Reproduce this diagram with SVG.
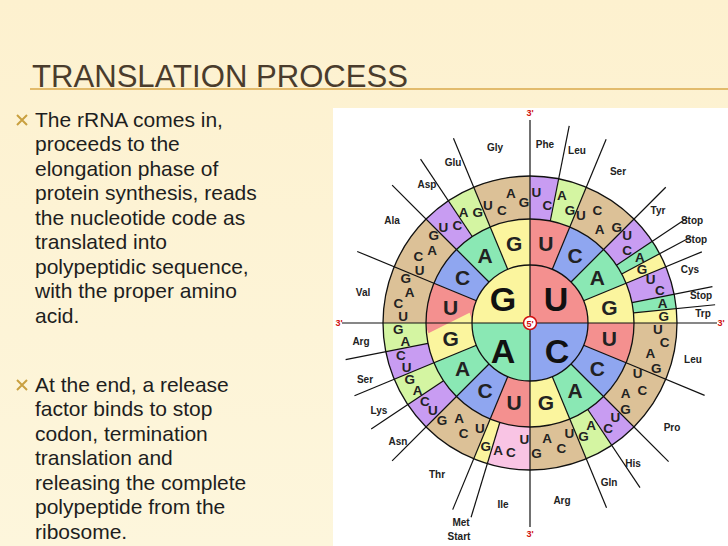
<svg xmlns="http://www.w3.org/2000/svg" width="728" height="546" viewBox="0 0 728 546">
<defs>
<linearGradient id="bg" x1="0" y1="0" x2="0" y2="1"><stop offset="0" stop-color="#fdf1cf"/><stop offset="1" stop-color="#fdf6dc"/></linearGradient>
<style>
.t{font-family:"Liberation Sans",Arial,sans-serif;font-size:21px;fill:#1e1e1e}
.aa{font-family:"Liberation Sans",Arial,sans-serif;font-size:10px;font-weight:bold;fill:#222;text-anchor:middle}
.n3{font-family:"Liberation Sans",Arial,sans-serif;font-size:13.5px;font-weight:bold;fill:#222;text-anchor:middle;dominant-baseline:central}
.n2{font-family:"Liberation Sans",Arial,sans-serif;font-size:21px;font-weight:bold;fill:#222;text-anchor:middle;dominant-baseline:central}
.n1{font-family:"Liberation Sans",Arial,sans-serif;font-size:34px;font-weight:bold;fill:#111;text-anchor:middle;dominant-baseline:central}
.p{font-family:"Liberation Sans",Arial,sans-serif;font-size:9px;font-weight:bold;fill:#d01010;text-anchor:middle}
.r3{fill:none;stroke-width:43}
.r2{fill:none;stroke-width:46}
.bl{stroke:#111;stroke-width:1.2}
</style>
</defs>
<rect width="728" height="546" fill="url(#bg)"/>
<text x="32" y="87" font-family="Liberation Sans,Arial,sans-serif" font-size="31" fill="#4a3c2c" textLength="376" lengthAdjust="spacingAndGlyphs">TRANSLATION PROCESS</text>
<line x1="30" y1="89" x2="728" y2="89" stroke="#d9a84a" stroke-width="1.5"/>
<g fill="none" stroke="#c9a040" stroke-width="2"><path d="M17 115 l10 10 M27 115 l-10 10"/><path d="M17 380 l10 10 M27 380 l-10 10"/></g>
<g class="t">
<text x="35" y="127">The rRNA comes in,</text>
<text x="35" y="151">proceeds to the</text>
<text x="35" y="176">elongation phase of</text>
<text x="35" y="200">protein synthesis, reads</text>
<text x="35" y="225">the nucleotide code as</text>
<text x="35" y="249">translated into</text>
<text x="35" y="274">polypeptidic sequence,</text>
<text x="35" y="298">with the proper amino</text>
<text x="35" y="323">acid.</text>
<text x="35" y="392">At the end, a release</text>
<text x="35" y="416">factor binds to stop</text>
<text x="35" y="441">codon, termination</text>
<text x="35" y="465">translation and</text>
<text x="35" y="490">releasing the complete</text>
<text x="35" y="514">polypeptide from the</text>
<text x="35" y="539">ribosome.</text>
</g>
<rect x="333" y="108" width="395" height="438" fill="#ffffff"/>
<g id="wheel" transform="translate(530,323)">
<g id="ring3" transform="rotate(-90)">
<circle class="r3" r="125.5" stroke="#d4f5a2"/>
<circle class="r3" r="125.5" pathLength="360" stroke="#c89cf2" stroke-dasharray="11.25 400" stroke-dashoffset="0"/>
<circle class="r3" r="125.5" pathLength="360" stroke="#d4f5a2" stroke-dasharray="11.25 400" stroke-dashoffset="-11.25"/>
<circle class="r3" r="125.5" pathLength="360" stroke="#dcc197" stroke-dasharray="22.5 400" stroke-dashoffset="-22.5"/>
<circle class="r3" r="125.5" pathLength="360" stroke="#c89cf2" stroke-dasharray="11.25 400" stroke-dashoffset="-45"/>
<circle class="r3" r="125.5" pathLength="360" stroke="#8ae8b4" stroke-dasharray="5.625 400" stroke-dashoffset="-56.25"/>
<circle class="r3" r="125.5" pathLength="360" stroke="#fbf59e" stroke-dasharray="5.625 400" stroke-dashoffset="-61.875"/>
<circle class="r3" r="125.5" pathLength="360" stroke="#c89cf2" stroke-dasharray="11.25 400" stroke-dashoffset="-67.5"/>
<circle class="r3" r="125.5" pathLength="360" stroke="#8ae8b4" stroke-dasharray="5.625 400" stroke-dashoffset="-78.75"/>
<circle class="r3" r="125.5" pathLength="360" stroke="#fbf59e" stroke-dasharray="5.625 400" stroke-dashoffset="-84.375"/>
<circle class="r3" r="125.5" pathLength="360" stroke="#dcc197" stroke-dasharray="45 400" stroke-dashoffset="-90"/>
<circle class="r3" r="125.5" pathLength="360" stroke="#c89cf2" stroke-dasharray="11.25 400" stroke-dashoffset="-135"/>
<circle class="r3" r="125.5" pathLength="360" stroke="#d4f5a2" stroke-dasharray="11.25 400" stroke-dashoffset="-146.25"/>
<circle class="r3" r="125.5" pathLength="360" stroke="#dcc197" stroke-dasharray="22.5 400" stroke-dashoffset="-157.5"/>
<circle class="r3" r="125.5" pathLength="360" stroke="#f9c4e4" stroke-dasharray="16.875 400" stroke-dashoffset="-180"/>
<circle class="r3" r="125.5" pathLength="360" stroke="#fbf59e" stroke-dasharray="5.625 400" stroke-dashoffset="-196.875"/>
<circle class="r3" r="125.5" pathLength="360" stroke="#dcc197" stroke-dasharray="22.5 400" stroke-dashoffset="-202.5"/>
<circle class="r3" r="125.5" pathLength="360" stroke="#c89cf2" stroke-dasharray="11.25 400" stroke-dashoffset="-225"/>
<circle class="r3" r="125.5" pathLength="360" stroke="#d4f5a2" stroke-dasharray="11.25 400" stroke-dashoffset="-236.25"/>
<circle class="r3" r="125.5" pathLength="360" stroke="#c89cf2" stroke-dasharray="11.25 400" stroke-dashoffset="-247.5"/>
<circle class="r3" r="125.5" pathLength="360" stroke="#d4f5a2" stroke-dasharray="11.25 400" stroke-dashoffset="-258.75"/>
<circle class="r3" r="125.5" pathLength="360" stroke="#dcc197" stroke-dasharray="45 400" stroke-dashoffset="-270"/>
<circle class="r3" r="125.5" pathLength="360" stroke="#c89cf2" stroke-dasharray="11.25 400" stroke-dashoffset="-315"/>
<circle class="r3" r="125.5" pathLength="360" stroke="#d4f5a2" stroke-dasharray="11.25 400" stroke-dashoffset="-326.25"/>
<circle class="r3" r="125.5" pathLength="360" stroke="#dcc197" stroke-dasharray="22.5 400" stroke-dashoffset="-337.5"/>
</g>
<g id="ring2" transform="rotate(-90)">
<circle class="r2" r="81" stroke="#fbf59e"/>
<circle class="r2" r="81" pathLength="360" stroke="#f4908f" stroke-dasharray="22.5 400" stroke-dashoffset="0"/>
<circle class="r2" r="81" pathLength="360" stroke="#8fa6f0" stroke-dasharray="22.5 400" stroke-dashoffset="-22.5"/>
<circle class="r2" r="81" pathLength="360" stroke="#8ae8b4" stroke-dasharray="22.5 400" stroke-dashoffset="-45"/>
<circle class="r2" r="81" pathLength="360" stroke="#f4908f" stroke-dasharray="22.5 400" stroke-dashoffset="-90"/>
<circle class="r2" r="81" pathLength="360" stroke="#8fa6f0" stroke-dasharray="22.5 400" stroke-dashoffset="-112.5"/>
<circle class="r2" r="81" pathLength="360" stroke="#8ae8b4" stroke-dasharray="22.5 400" stroke-dashoffset="-135"/>
<circle class="r2" r="81" pathLength="360" stroke="#f4908f" stroke-dasharray="22.5 400" stroke-dashoffset="-180"/>
<circle class="r2" r="81" pathLength="360" stroke="#8fa6f0" stroke-dasharray="22.5 400" stroke-dashoffset="-202.5"/>
<circle class="r2" r="81" pathLength="360" stroke="#8ae8b4" stroke-dasharray="22.5 400" stroke-dashoffset="-225"/>
<circle class="r2" r="81" pathLength="360" stroke="#f4908f" stroke-dasharray="22.5 400" stroke-dashoffset="-270"/>
<circle class="r2" r="81" pathLength="360" stroke="#8fa6f0" stroke-dasharray="22.5 400" stroke-dashoffset="-292.5"/>
<circle class="r2" r="81" pathLength="360" stroke="#8ae8b4" stroke-dasharray="22.5 400" stroke-dashoffset="-315"/>
</g>
<g id="ring1">
<path d="M0 0 V-58 A58 58 0 0 1 58 0 Z" fill="#f4908f"/>
<path d="M0 0 H58 A58 58 0 0 1 0 58 Z" fill="#8fa6f0"/>
<path d="M0 0 V58 A58 58 0 0 1 -58 0 Z" fill="#8ae8b4"/>
<path d="M0 0 H-58 A58 58 0 0 1 0 -58 Z" fill="#fbf59e"/>
</g>
<g id="borders" fill="none" stroke="#111" stroke-width="1.3">
<circle r="58"/><circle r="104"/><circle r="147"/>
</g>
<g id="connectors" class="bl">
<line x1="-188" y1="0" x2="187" y2="0"/>
<line x1="0" y1="-203" x2="0" y2="204"/>
<g>
<line x1="0" y1="-58" x2="0" y2="-104" transform="rotate(22.5)"/>
<line x1="0" y1="-58" x2="0" y2="-104" transform="rotate(45)"/>
<line x1="0" y1="-58" x2="0" y2="-104" transform="rotate(67.5)"/>
<line x1="0" y1="-58" x2="0" y2="-104" transform="rotate(112.5)"/>
<line x1="0" y1="-58" x2="0" y2="-104" transform="rotate(135)"/>
<line x1="0" y1="-58" x2="0" y2="-104" transform="rotate(157.5)"/>
<line x1="0" y1="-58" x2="0" y2="-104" transform="rotate(202.5)"/>
<line x1="0" y1="-58" x2="0" y2="-104" transform="rotate(225)"/>
<line x1="0" y1="-58" x2="0" y2="-104" transform="rotate(247.5)"/>
<line x1="0" y1="-58" x2="0" y2="-104" transform="rotate(292.5)"/>
<line x1="0" y1="-58" x2="0" y2="-104" transform="rotate(315)"/>
<line x1="0" y1="-58" x2="0" y2="-104" transform="rotate(337.5)"/>
</g>
<line x1="0" y1="-104" x2="0" y2="-201" transform="rotate(11.25)"/>
<line x1="0" y1="-104" x2="0" y2="-199" transform="rotate(22.5)"/>
<line x1="0" y1="-104" x2="0" y2="-192" transform="rotate(45)"/>
<line x1="0" y1="-104" x2="0" y2="-189" transform="rotate(56.25)"/>
<line x1="0" y1="-104" x2="0" y2="-182" transform="rotate(61.875)"/>
<line x1="0" y1="-104" x2="0" y2="-186" transform="rotate(67.5)"/>
<line x1="0" y1="-104" x2="0" y2="-186" transform="rotate(78.75)"/>
<line x1="0" y1="-104" x2="0" y2="-186" transform="rotate(84.375)"/>
<line x1="0" y1="-104" x2="0" y2="-189" transform="rotate(112.5)"/>
<line x1="0" y1="-104" x2="0" y2="-196" transform="rotate(135)"/>
<line x1="0" y1="-104" x2="0" y2="-198" transform="rotate(146.25)"/>
<line x1="0" y1="-104" x2="0" y2="-200" transform="rotate(157.5)"/>
<line x1="0" y1="-104" x2="0" y2="-203" transform="rotate(196.875)"/>
<line x1="0" y1="-104" x2="0" y2="-202" transform="rotate(202.5)"/>
<line x1="0" y1="-104" x2="0" y2="-195" transform="rotate(225)"/>
<line x1="0" y1="-104" x2="0" y2="-191" transform="rotate(236.25)"/>
<line x1="0" y1="-104" x2="0" y2="-190" transform="rotate(247.5)"/>
<line x1="0" y1="-104" x2="0" y2="-188" transform="rotate(258.75)"/>
<line x1="0" y1="-104" x2="0" y2="-187" transform="rotate(292.5)"/>
<line x1="0" y1="-104" x2="0" y2="-195" transform="rotate(315)"/>
<line x1="0" y1="-104" x2="0" y2="-197" transform="rotate(326.25)"/>
<line x1="0" y1="-104" x2="0" y2="-200" transform="rotate(337.5)"/>
</g>
<g id="center"><circle r="6.5" fill="#fff" stroke="#d01010" stroke-width="1.5"/><text class="p" y="3.5">5'</text></g>
<g id="l1" class="n1">
<text x="26" y="-24">U</text><text x="27" y="28">C</text><text x="-27" y="28">A</text><text x="-27" y="-24">G</text>
</g>
<g id="l2" class="n2">
<text transform="rotate(11.25) translate(0,-81) rotate(-11.25)">U</text>
<text transform="rotate(33.75) translate(0,-81) rotate(-33.75)">C</text>
<text transform="rotate(56.25) translate(0,-81) rotate(-56.25)">A</text>
<text transform="rotate(78.75) translate(0,-81) rotate(-78.75)">G</text>
<text transform="rotate(101.25) translate(0,-81) rotate(-101.25)">U</text>
<text transform="rotate(123.75) translate(0,-81) rotate(-123.75)">C</text>
<text transform="rotate(146.25) translate(0,-81) rotate(-146.25)">A</text>
<text transform="rotate(168.75) translate(0,-81) rotate(-168.75)">G</text>
<text transform="rotate(191.25) translate(0,-81) rotate(-191.25)">U</text>
<text transform="rotate(213.75) translate(0,-81) rotate(-213.75)">C</text>
<text transform="rotate(236.25) translate(0,-81) rotate(-236.25)">A</text>
<text transform="rotate(258.75) translate(0,-81) rotate(-258.75)">G</text>
<text transform="rotate(281.25) translate(0,-81) rotate(-281.25)">U</text>
<text transform="rotate(303.75) translate(0,-81) rotate(-303.75)">C</text>
<text transform="rotate(326.25) translate(0,-81) rotate(-326.25)">A</text>
<text transform="rotate(348.75) translate(0,-81) rotate(-348.75)">G</text>
</g>
<g id="l3" class="n3">
<text transform="rotate(2.81) translate(0,-131) rotate(-2.81)">U</text>
<text transform="rotate(8.44) translate(0,-119) rotate(-8.44)">C</text>
<text transform="rotate(14.06) translate(0,-131) rotate(-14.06)">A</text>
<text transform="rotate(19.69) translate(0,-119) rotate(-19.69)">G</text>
<text transform="rotate(25.31) translate(0,-119) rotate(-25.31)">U</text>
<text transform="rotate(30.94) translate(0,-131) rotate(-30.94)">C</text>
<text transform="rotate(36.56) translate(0,-117) rotate(-36.56)">A</text>
<text transform="rotate(42.19) translate(0,-129) rotate(-42.19)">G</text>
<text transform="rotate(47.81) translate(0,-131) rotate(-47.81)">U</text>
<text transform="rotate(53.44) translate(0,-121) rotate(-53.44)">C</text>
<text transform="rotate(59.06) translate(0,-128) rotate(-59.06)">A</text>
<text transform="rotate(64.69) translate(0,-124) rotate(-64.69)">G</text>
<text transform="rotate(70.31) translate(0,-128) rotate(-70.31)">U</text>
<text transform="rotate(75.94) translate(0,-134) rotate(-75.94)">C</text>
<text transform="rotate(81.56) translate(0,-134) rotate(-81.56)">A</text>
<text transform="rotate(87.19) translate(0,-134) rotate(-87.19)">G</text>
<text transform="rotate(92.81) translate(0,-128) rotate(-92.81)">U</text>
<text transform="rotate(98.44) translate(0,-136) rotate(-98.44)">C</text>
<text transform="rotate(104.06) translate(0,-124) rotate(-104.06)">A</text>
<text transform="rotate(109.69) translate(0,-134) rotate(-109.69)">G</text>
<text transform="rotate(115.31) translate(0,-119) rotate(-115.31)">U</text>
<text transform="rotate(120.94) translate(0,-131) rotate(-120.94)">C</text>
<text transform="rotate(126.56) translate(0,-119) rotate(-126.56)">A</text>
<text transform="rotate(132.19) translate(0,-129) rotate(-132.19)">G</text>
<text transform="rotate(137.81) translate(0,-127) rotate(-137.81)">U</text>
<text transform="rotate(143.44) translate(0,-131) rotate(-143.44)">C</text>
<text transform="rotate(149.06) translate(0,-119) rotate(-149.06)">A</text>
<text transform="rotate(154.69) translate(0,-125) rotate(-154.69)">G</text>
<text transform="rotate(160.31) translate(0,-117) rotate(-160.31)">U</text>
<text transform="rotate(165.94) translate(0,-129) rotate(-165.94)">C</text>
<text transform="rotate(171.56) translate(0,-117) rotate(-171.56)">A</text>
<text transform="rotate(177.19) translate(0,-131) rotate(-177.19)">G</text>
<text transform="rotate(182.81) translate(0,-117) rotate(-182.81)">U</text>
<text transform="rotate(188.44) translate(0,-131) rotate(-188.44)">C</text>
<text transform="rotate(194.06) translate(0,-131) rotate(-194.06)">A</text>
<text transform="rotate(199.69) translate(0,-131) rotate(-199.69)">G</text>
<text transform="rotate(205.31) translate(0,-117) rotate(-205.31)">U</text>
<text transform="rotate(210.94) translate(0,-129) rotate(-210.94)">C</text>
<text transform="rotate(216.56) translate(0,-119) rotate(-216.56)">A</text>
<text transform="rotate(222.19) translate(0,-131) rotate(-222.19)">G</text>
<text transform="rotate(227.81) translate(0,-131) rotate(-227.81)">U</text>
<text transform="rotate(233.44) translate(0,-131) rotate(-233.44)">C</text>
<text transform="rotate(239.06) translate(0,-131) rotate(-239.06)">A</text>
<text transform="rotate(244.69) translate(0,-133) rotate(-244.69)">G</text>
<text transform="rotate(250.31) translate(0,-131) rotate(-250.31)">U</text>
<text transform="rotate(255.94) translate(0,-133) rotate(-255.94)">C</text>
<text transform="rotate(261.56) translate(0,-126) rotate(-261.56)">A</text>
<text transform="rotate(267.19) translate(0,-132) rotate(-267.19)">G</text>
<text transform="rotate(272.81) translate(0,-127) rotate(-272.81)">U</text>
<text transform="rotate(278.44) translate(0,-133) rotate(-278.44)">C</text>
<text transform="rotate(284.06) translate(0,-124) rotate(-284.06)">A</text>
<text transform="rotate(289.69) translate(0,-132) rotate(-289.69)">G</text>
<text transform="rotate(295.31) translate(0,-122) rotate(-295.31)">U</text>
<text transform="rotate(300.94) translate(0,-130) rotate(-300.94)">C</text>
<text transform="rotate(306.56) translate(0,-122) rotate(-306.56)">A</text>
<text transform="rotate(312.19) translate(0,-130) rotate(-312.19)">G</text>
<text transform="rotate(317.81) translate(0,-129) rotate(-317.81)">U</text>
<text transform="rotate(323.44) translate(0,-122) rotate(-323.44)">C</text>
<text transform="rotate(329.06) translate(0,-129) rotate(-329.06)">A</text>
<text transform="rotate(334.69) translate(0,-122) rotate(-334.69)">G</text>
<text transform="rotate(340.31) translate(0,-125) rotate(-340.31)">U</text>
<text transform="rotate(345.94) translate(0,-116) rotate(-345.94)">C</text>
<text transform="rotate(351.56) translate(0,-131) rotate(-351.56)">A</text>
<text transform="rotate(357.19) translate(0,-121) rotate(-357.19)">G</text>
</g>
</g>
<g id="primes" class="p">
<text x="530" y="116">3'</text><text x="530" y="537">3'</text><text x="339" y="326">3'</text><text x="721" y="326">3'</text>
</g>
<g id="aminoacids" class="aa">
<text x="495" y="151">Gly</text><text x="545" y="148">Phe</text><text x="577" y="154">Leu</text><text x="618" y="175">Ser</text>
<text x="658" y="214">Tyr</text><text x="692" y="224">Stop</text><text x="696" y="243">Stop</text><text x="690" y="273">Cys</text>
<text x="701" y="299">Stop</text><text x="703" y="317">Trp</text><text x="693" y="363">Leu</text><text x="672" y="431">Pro</text>
<text x="633" y="467">His</text><text x="609" y="486">Gln</text><text x="562" y="504">Arg</text><text x="503" y="508">Ile</text>
<text x="461" y="526">Met</text><text x="459" y="540">Start</text><text x="437" y="478">Thr</text><text x="398" y="445">Asn</text>
<text x="379" y="414">Lys</text><text x="365" y="383">Ser</text><text x="361" y="345">Arg</text><text x="363" y="296">Val</text>
<text x="392" y="224">Ala</text><text x="427" y="188">Asp</text><text x="453" y="166">Glu</text>
</g>
</svg>
